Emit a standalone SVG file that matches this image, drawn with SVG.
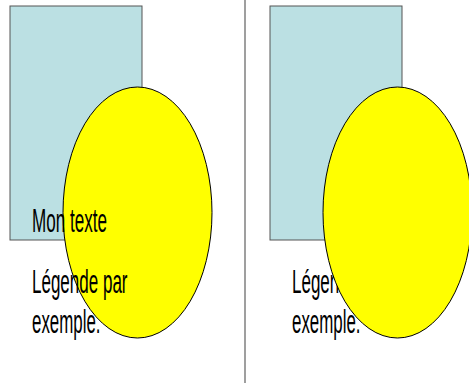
<svg xmlns="http://www.w3.org/2000/svg" width="469" height="383" viewBox="0 0 469 383">
<style>
.box{fill:#BBE0E3;stroke:#555555;stroke-width:1}
.oval{fill:#FFFF00;stroke:#000000;stroke-width:1}
.t{font-family:"Liberation Sans",Arial,sans-serif;font-size:33px;fill:#000000}
.div{stroke:#7f7f7f;stroke-width:1.5}
</style>
<rect width="469" height="383" fill="#ffffff"/>
<g id="divider"><line class="div" x1="245" y1="0" x2="245" y2="383"/></g>
<g id="left-panel">
<g id="left-rect"><rect class="box" x="10" y="6" width="132" height="234"/></g>
<g id="left-ellipse"><ellipse class="oval" cx="137.5" cy="212.5" rx="74.5" ry="125.5"/></g>
<g id="left-text">
<text class="t" x="32" y="232" textLength="75" lengthAdjust="spacingAndGlyphs">Mon texte</text>
<text class="t" x="32" y="293" textLength="95.5" lengthAdjust="spacingAndGlyphs">Légende par</text>
<text class="t" x="32" y="333" textLength="68.5" lengthAdjust="spacingAndGlyphs">exemple.</text>
</g>
</g>
<g id="right-panel">
<g id="right-rect"><rect class="box" x="270" y="6" width="132" height="234"/></g>
<g id="right-text">
<text class="t" x="292" y="293" textLength="95.5" lengthAdjust="spacingAndGlyphs">Légende par</text>
<text class="t" x="292" y="333" textLength="68.5" lengthAdjust="spacingAndGlyphs">exemple.</text>
</g>
<g id="right-ellipse"><ellipse class="oval" cx="397.5" cy="212.5" rx="74.5" ry="125.5"/></g>
</g>
</svg>
